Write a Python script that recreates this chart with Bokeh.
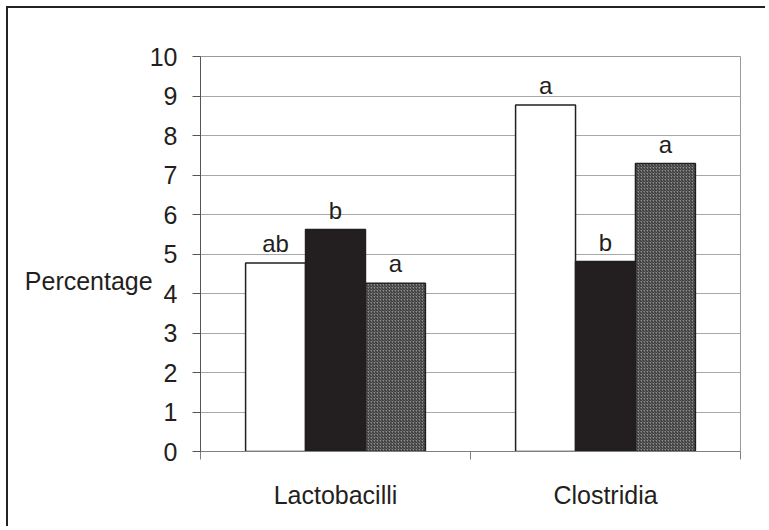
from bokeh.plotting import figure
from bokeh.models import Range1d, FixedTicker, ColumnDataSource, LabelSet
from bokeh.core.properties import value
from bokeh.embed import file_html
from bokeh.resources import INLINE

# ---- data ----
categories = ["Lactobacilli", "Clostridia"]
values_white = [4.77, 8.77]
values_black = [5.62, 4.81]
values_hatched = [4.26, 7.29]
letters_white = ["ab", "a"]
letters_black = ["b", "b"]
letters_hatched = ["a", "a"]
y_ticks = list(range(0, 11))
y_label = "Percentage"

FONT = "Liberation Sans"
TXT = "#231f20"
bar_w = 0.222

p = figure(
    x_range=Range1d(0, len(categories)),
    y_range=Range1d(0, 10),
    frame_width=540, frame_height=395,
    min_border_left=192, min_border_right=25,
    min_border_top=48, min_border_bottom=75,
    output_backend="svg", toolbar_location=None,
    background_fill_color="white", border_fill_color="white",
)
p.styles = {"margin": "6px 0px 0px 6px",
            "border-left": "2px solid #222222", "border-top": "2px solid #222222"}
p.outline_line_color = "#9a9a9a"
p.outline_line_width = 1

# y axis
p.yaxis.ticker = FixedTicker(ticks=y_ticks)
p.yaxis.axis_line_color = "#555555"
p.yaxis.major_tick_line_color = "#555555"
p.yaxis.major_tick_out = 8
p.yaxis.major_tick_in = 0
p.yaxis.minor_tick_line_color = None
p.yaxis.major_label_standoff = 15
p.yaxis.major_label_text_font = FONT
p.yaxis.major_label_text_font_size = "25px"
p.yaxis.major_label_text_color = TXT
p.yaxis.axis_label = "\n\n" + y_label
p.yaxis.axis_label_orientation = "horizontal"
p.yaxis.axis_label_standoff = -6
p.yaxis.axis_label_text_font = FONT
p.yaxis.axis_label_text_font_size = "25px"
p.yaxis.axis_label_text_font_style = "normal"
p.yaxis.axis_label_text_line_height = 0.95
p.yaxis.axis_label_text_color = TXT

# x axis: labels at category centers, ticks between categories
centers = [i + 0.5 for i in range(len(categories))]
bounds = [i for i in range(len(categories) + 1)]
p.xaxis.ticker = FixedTicker(ticks=centers, minor_ticks=bounds)
p.xaxis.major_label_overrides = {c: name for c, name in zip(centers, categories)}
p.xaxis.axis_line_color = "#808080"
p.xaxis.major_tick_line_color = None
p.xaxis.major_tick_out = 0
p.xaxis.major_tick_in = 0
p.xaxis.minor_tick_line_color = "#808080"
p.xaxis.minor_tick_out = 8
p.xaxis.minor_tick_in = 0
p.xaxis.major_label_standoff = 21
p.xaxis.major_label_text_font = FONT
p.xaxis.major_label_text_font_size = "25px"
p.xaxis.major_label_text_color = TXT

p.xgrid.grid_line_color = None
p.ygrid.ticker = FixedTicker(ticks=y_ticks)
p.ygrid.grid_line_color = "#a8a8a8"
p.ygrid.grid_line_width = 1

series = [
    (values_white, letters_white, -bar_w, dict(fill_color="white")),
    (values_black, letters_black, 0.0, dict(fill_color="#231f20")),
    (values_hatched, letters_hatched, bar_w,
     dict(fill_color="#8c8c8c", hatch_pattern="right_diagonal_line",
          hatch_color="#2a2a2a", hatch_scale=3, hatch_weight=1)),
]
for vals, letters, off, style in series:
    src = ColumnDataSource(dict(x=[c + off for c in centers], top=vals, lab=letters))
    p.vbar(x="x", top="top", bottom=0, width=bar_w, source=src,
           line_color="#231f20", line_width=1.5, **style)
    p.add_layout(LabelSet(x="x", y="top", text="lab", source=src,
                          text_align="center", text_baseline="alphabetic",
                          y_offset=11, text_font=value(FONT),
                          text_font_size="24px", text_color=TXT))

open("out.html", "w").write(file_html(p, INLINE))
